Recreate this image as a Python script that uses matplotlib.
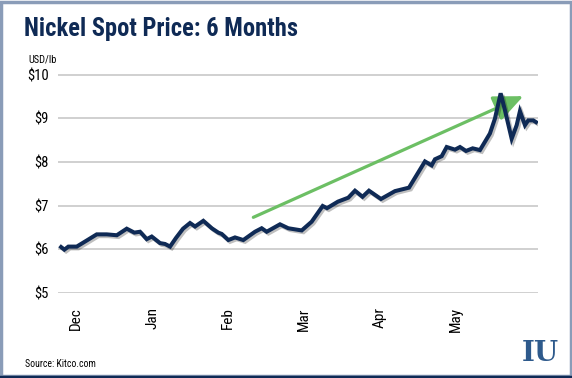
import matplotlib
matplotlib.use("Agg")
import matplotlib.pyplot as plt
import matplotlib.patheffects as pe
from matplotlib import font_manager as fm
from matplotlib.patches import Rectangle

# pick a narrow font if one is around
have = {(f.name, f.stretch) for f in fm.fontManager.ttflist}
names = {n for n, _ in have}
stretch = 'normal'
if 'Roboto Condensed' in names:
    fam = 'Roboto Condensed'
elif 'Liberation Sans Narrow' in names:
    fam = 'Liberation Sans Narrow'
elif ('DejaVu Sans', 'condensed') in have or ('DejaVu Sans', 'semi-condensed') in have:
    fam, stretch = 'DejaVu Sans', 'condensed'
else:
    fam = 'Roboto'
plt.rcParams['font.family'] = [fam, 'DejaVu Sans']
plt.rcParams['font.stretch'] = stretch

# month positions (0 = Dec tick, 1 = Jan tick, ...) and price in USD/lb
months = ["Dec", "Jan", "Feb", "Mar", "Apr", "May"]
x_pos = [-0.197, -0.154, -0.101, 0.009, 0.141, 0.272, 0.404, 0.536, 0.667, 0.767,
         0.842, 0.930, 0.996, 1.105, 1.171, 1.237, 1.316, 1.408, 1.500, 1.566,
         1.675, 1.786, 1.872, 1.917, 2.004, 2.092, 2.201, 2.355, 2.443, 2.509,
         2.684, 2.793, 2.970, 3.101, 3.246, 3.303, 3.447, 3.583, 3.671, 3.770,
         3.855, 4.013, 4.197, 4.382, 4.592, 4.680, 4.724, 4.812, 4.878, 4.987,
         5.053, 5.132, 5.220, 5.316, 5.447, 5.513, 5.588, 5.645, 5.733, 5.799,
         5.842, 5.908, 5.951, 6.017, 6.053]
price = [6.05, 5.99, 6.06, 6.06, 6.20, 6.34, 6.34, 6.32, 6.47, 6.38,
         6.40, 6.23, 6.29, 6.14, 6.12, 6.06, 6.26, 6.47, 6.60, 6.52,
         6.65, 6.48, 6.38, 6.35, 6.21, 6.27, 6.21, 6.40, 6.48, 6.40,
         6.57, 6.48, 6.43, 6.63, 6.99, 6.94, 7.09, 7.18, 7.34, 7.20,
         7.34, 7.15, 7.33, 7.41, 8.01, 7.92, 8.06, 8.13, 8.34, 8.28,
         8.34, 8.25, 8.31, 8.27, 8.65, 8.99, 9.57, 9.18, 8.53, 8.84,
         9.16, 8.84, 8.95, 8.95, 8.91]
y_ticks = [5, 6, 7, 8, 9, 10]
trend_start = (2.333, 6.73)
trend_end = (5.886, 9.505)

navy = "#0f2a55"
fig = plt.figure(figsize=(5.72, 3.78), dpi=100)
ax = fig.add_axes([0.102, 0.224, 0.8386, 0.580])

ax.plot(x_pos, price, color=navy, lw=2.9, solid_joinstyle='miter',
        path_effects=[pe.SimpleLineShadow(offset=(1.3, -1.3), shadow_color='#000000', alpha=0.25),
                      pe.Normal()], zorder=5)
ax.annotate("", xy=trend_end, xytext=trend_start,
            arrowprops=dict(arrowstyle='-|>,head_length=0.75,head_width=0.33', color='#6cbf64',
                            lw=2.3, mutation_scale=24, shrinkA=0, shrinkB=0), zorder=4)

ax.set_xlim(-0.233, 6.08)
ax.set_ylim(4.99, 10.01)
ax.set_yticks(y_ticks)
ax.set_yticklabels(["$%d" % v for v in y_ticks], fontsize=10.5)
ax.set_xticks(range(len(months)))
ax.set_xticklabels(months, rotation=90, fontsize=11)
ax.tick_params(length=0)
ax.tick_params(axis='y', pad=7)
ax.tick_params(axis='x', pad=10)
for s in ax.spines.values():
    s.set_visible(False)
ax.yaxis.grid(True, color='#c8c8c8', lw=1.2)
ax.set_axisbelow(True)

title = fig.text(0.042, 0.905, "Nickel Spot Price: 6 Months", fontsize=19,
                 fontweight='bold', color=navy)
fig.text(0.049, 0.835, "USD/lb", fontsize=7.5)
fig.text(0.044, 0.03, "Source: Kitco.com", fontsize=7)
fig.text(0.945, 0.045, "IU", fontsize=20, fontweight='bold', family='DejaVu Serif',
         color='#2e5a8c', ha='center')

# shrink the title to the width it has in the original (~274 px)
r = fig.canvas.get_renderer()
w = title.get_window_extent(r).width
if w > 274:
    title.set_fontsize(19 * 274 / w)

fig.patches.append(Rectangle((0.002, 0.004), 0.996, 0.992, transform=fig.transFigure,
                             fill=False, edgecolor='#8a9cb8', lw=2.5))
fig.add_artist(plt.Line2D([0, 1], [0.003, 0.003], color=navy, lw=2.5, transform=fig.transFigure))

fig.savefig("out.png", dpi=100)
